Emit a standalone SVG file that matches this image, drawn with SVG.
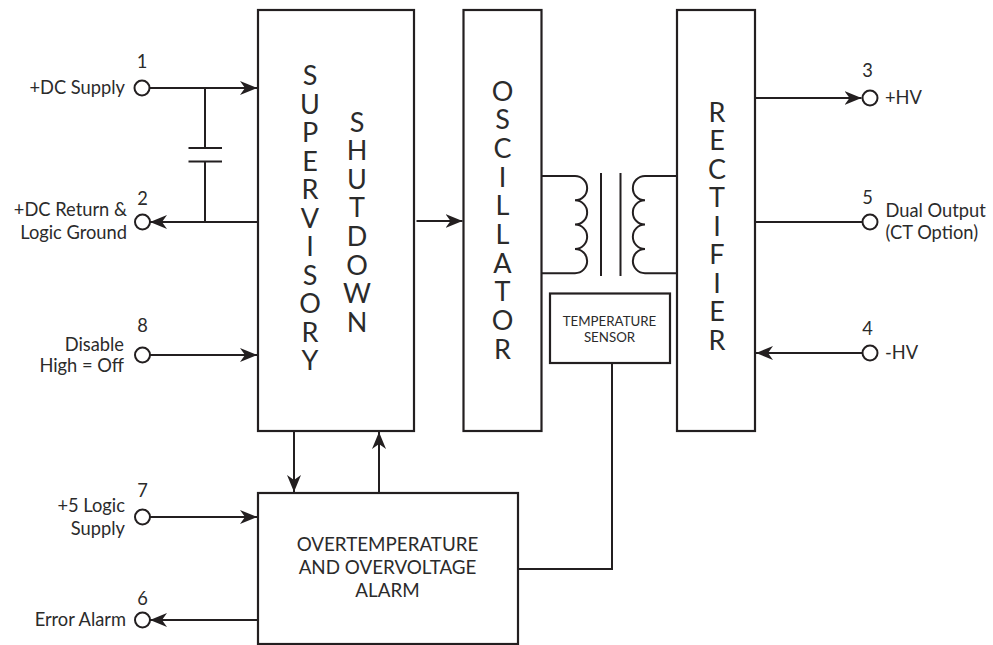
<svg xmlns="http://www.w3.org/2000/svg" width="993" height="645" viewBox="0 0 993 645">
<defs>
<style>
.box{fill:#fff;stroke:#231f20;stroke-width:2.2}
.ln{fill:none;stroke:#231f20;stroke-width:2}
.pin{fill:#fff;stroke:#231f20;stroke-width:2}
.lbl{font-family:Lato,"Liberation Sans",sans-serif;font-size:18.3px;fill:#2b2b2b}
.big{font-family:Lato,"Liberation Sans",sans-serif;font-size:27px;fill:#2b2b2b;text-anchor:middle}
.mid{font-family:Lato,"Liberation Sans",sans-serif;font-size:18.8px;fill:#2b2b2b;text-anchor:middle}
.sm{font-family:Lato,"Liberation Sans",sans-serif;font-size:13.3px;fill:#2b2b2b;text-anchor:middle}
.end{text-anchor:end}
.ctr{text-anchor:middle}
</style>
<marker id="arr" markerUnits="userSpaceOnUse" markerWidth="18" markerHeight="15" refX="17" refY="7" orient="auto">
<path d="M0,0 L17,7 L0,14 L5,7 Z" fill="#231f20"/>
</marker>
</defs>
<rect width="993" height="645" fill="#fff"/>

<g id="connectors">
<path class="ln" d="M149.5,88 H257" marker-end="url(#arr)"/>
<path class="ln" d="M205,88 V148 M188.5,148 H222 M188.5,161.5 H222 M205,161.5 V222"/>
<path class="ln" d="M258,222 H150" marker-end="url(#arr)"/>
<path class="ln" d="M150,355 H257" marker-end="url(#arr)"/>
<path class="ln" d="M416.5,221 H462.5" marker-end="url(#arr)"/>
<path class="ln" d="M294,432 V492" marker-end="url(#arr)"/>
<path class="ln" d="M379,493 V432" marker-end="url(#arr)"/>
<path class="ln" d="M150,517 H257" marker-end="url(#arr)"/>
<path class="ln" d="M258,620 H150" marker-end="url(#arr)"/>
<path class="ln" d="M612,363 V569 H518"/>
<path class="ln" d="M541,176 H575 A12.1,12.1 0 0 1 575,200.3 A12.1,12.1 0 0 1 575,224.6 A12.1,12.1 0 0 1 575,248.9 A12.1,12.1 0 0 1 575,273.2 H541"/>
<path class="ln" d="M677,176 H645 A12.1,12.1 0 0 0 645,200.3 A12.1,12.1 0 0 0 645,224.6 A12.1,12.1 0 0 0 645,248.9 A12.1,12.1 0 0 0 645,273.2 H677"/>
<path class="ln" d="M601,173 V276 M620.5,173 V276"/>
<path class="ln" d="M755,98 H861.5" marker-end="url(#arr)"/>
<path class="ln" d="M755,222 H862"/>
<path class="ln" d="M862.5,353 H756" marker-end="url(#arr)"/>
</g>

<g id="supervisory">
<rect class="box" x="258" y="10" width="156" height="421"/>
<text class="big"><tspan x="310" y="85">S</tspan><tspan x="310" dy="28.5">U</tspan><tspan x="310" dy="28.5">P</tspan><tspan x="310" dy="28.5">E</tspan><tspan x="310" dy="28.5">R</tspan><tspan x="310" dy="28.5">V</tspan><tspan x="310" dy="28.5">I</tspan><tspan x="310" dy="28.5">S</tspan><tspan x="310" dy="28.5">O</tspan><tspan x="310" dy="28.5">R</tspan><tspan x="310" dy="28.5">Y</tspan></text>
<text class="big"><tspan x="357" y="131.5">S</tspan><tspan x="357" dy="28.6">H</tspan><tspan x="357" dy="28.6">U</tspan><tspan x="357" dy="28.6">T</tspan><tspan x="357" dy="28.6">D</tspan><tspan x="357" dy="28.6">O</tspan><tspan x="357" dy="28.6">W</tspan><tspan x="357" dy="28.6">N</tspan></text>
</g>

<g id="oscillator">
<rect class="box" x="463.5" y="10" width="78" height="421"/>
<text class="big"><tspan x="502.5" y="100.5">O</tspan><tspan x="502.5" dy="28.7">S</tspan><tspan x="502.5" dy="28.7">C</tspan><tspan x="502.5" dy="28.7">I</tspan><tspan x="502.5" dy="28.7">L</tspan><tspan x="502.5" dy="28.7">L</tspan><tspan x="502.5" dy="28.7">A</tspan><tspan x="502.5" dy="28.7">T</tspan><tspan x="502.5" dy="28.7">O</tspan><tspan x="502.5" dy="28.7">R</tspan></text>
</g>

<g id="rectifier">
<rect class="box" x="677" y="10" width="78" height="421"/>
<text class="big"><tspan x="717" y="121.7">R</tspan><tspan x="717" dy="28.5">E</tspan><tspan x="717" dy="28.5">C</tspan><tspan x="717" dy="28.5">T</tspan><tspan x="717" dy="28.5">I</tspan><tspan x="717" dy="28.5">F</tspan><tspan x="717" dy="28.5">I</tspan><tspan x="717" dy="28.5">E</tspan><tspan x="717" dy="28.5">R</tspan></text>
</g>

<g id="temperature-sensor">
<rect class="box" x="550" y="293.5" width="120" height="69.5"/>
<text class="sm"><tspan x="609.5" y="326">TEMPERATURE</tspan><tspan x="609.5" y="342">SENSOR</tspan></text>
</g>

<g id="alarm">
<rect class="box" x="258" y="493" width="260" height="151"/>
<text class="mid"><tspan x="387.5" y="551">OVERTEMPERATURE</tspan><tspan x="387.5" y="573.5">AND OVERVOLTAGE</tspan><tspan x="387.5" y="596.5">ALARM</tspan></text>
</g>

<g id="pin1">
<circle class="pin" cx="142" cy="88" r="7.5"/>
<text class="lbl ctr" x="142" y="68">1</text>
<text class="lbl end" x="125" y="94.3">+DC Supply</text>
</g>
<g id="pin2">
<circle class="pin" cx="142.5" cy="222" r="7.5"/>
<text class="lbl ctr" x="142.5" y="205">2</text>
<text class="lbl end" x="127" y="216">+DC Return &amp;</text>
<text class="lbl end" x="127" y="238.5">Logic Ground</text>
</g>
<g id="pin8">
<circle class="pin" cx="142.5" cy="355" r="7.5"/>
<text class="lbl ctr" x="142.5" y="332">8</text>
<text class="lbl end" x="124" y="350.5">Disable</text>
<text class="lbl end" x="124" y="372">High = Off</text>
</g>
<g id="pin7">
<circle class="pin" cx="142.5" cy="517" r="7.5"/>
<text class="lbl ctr" x="142.5" y="497">7</text>
<text class="lbl end" x="125" y="512">+5 Logic</text>
<text class="lbl end" x="125" y="535">Supply</text>
</g>
<g id="pin6">
<circle class="pin" cx="142.5" cy="620" r="7.5"/>
<text class="lbl ctr" x="142.5" y="605">6</text>
<text class="lbl end" x="126" y="626">Error Alarm</text>
</g>
<g id="pin3">
<circle class="pin" cx="870" cy="98" r="7.5"/>
<text class="lbl ctr" x="867.5" y="77">3</text>
<text class="lbl" x="885" y="103.5">+HV</text>
</g>
<g id="pin5">
<circle class="pin" cx="870" cy="222" r="7.5"/>
<text class="lbl ctr" x="867.5" y="204">5</text>
<text class="lbl" x="885.5" y="217">Dual Output</text>
<text class="lbl" x="885.5" y="238.5">(CT Option)</text>
</g>
<g id="pin4">
<circle class="pin" cx="870" cy="353" r="7.5"/>
<text class="lbl ctr" x="867.5" y="335">4</text>
<text class="lbl" x="885" y="358.5">-HV</text>
</g>
</svg>
